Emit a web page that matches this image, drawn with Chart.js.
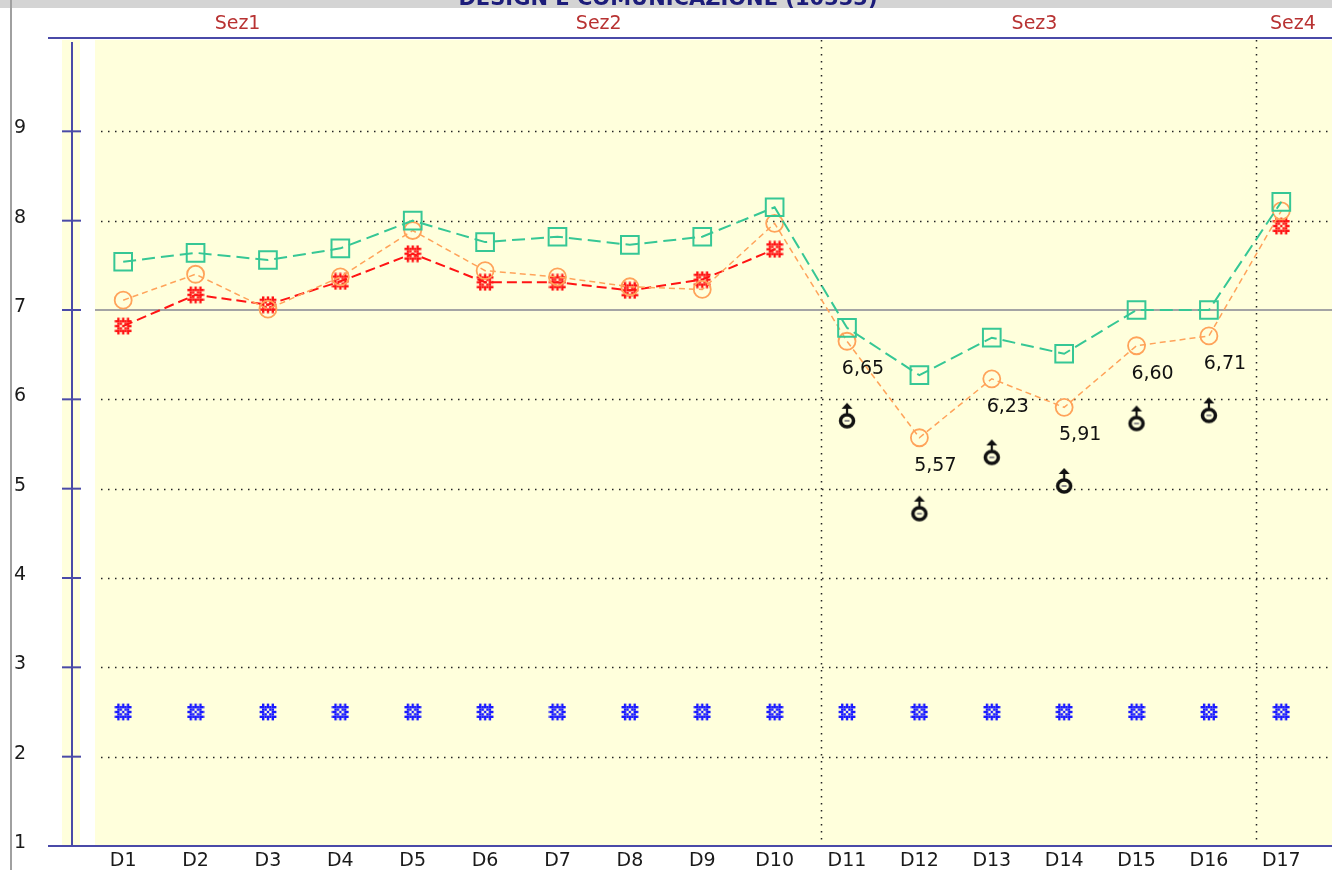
<!DOCTYPE html>
<html>
<head>
<meta charset="utf-8">
<script src="https://cdn.jsdelivr.net/npm/chart.js@4"></script>
<style>
  body { margin: 0; background: #fff; }
</style>
</head>
<body>
<canvas id="grafico" width="1332" height="870"></canvas>
<script>
var etichette = ['D1', 'D2', 'D3', 'D4', 'D5', 'D6', 'D7', 'D8', 'D9', 'D10', 'D11', 'D12', 'D13', 'D14', 'D15', 'D16', 'D17']
var tickY = [1, 2, 3, 4, 5, 6, 7, 8, 9]

// serie
var verde = [7.54, 7.64, 7.56, 7.69, 8.00, 7.76, 7.82, 7.73, 7.82, 8.15, 6.80, 6.27, 6.69, 6.51, 7.00, 7.00, 8.21]
var arancio = [7.11, 7.40, 7.01, 7.37, 7.89, 7.44, 7.37, 7.26, 7.23, 7.97, 6.65, 5.57, 6.23, 5.91, 6.60, 6.71, 8.11]
var rosso = [6.82, 7.17, 7.06, 7.32, 7.63, 7.31, 7.31, 7.22, 7.34, 7.68, null, null, null, null, null, null, 7.94]
var blu = [2.5, 2.5, 2.5, 2.5, 2.5, 2.5, 2.5, 2.5, 2.5, 2.5, 2.5, 2.5, 2.5, 2.5, 2.5, 2.5, 2.5]
var nero = [null, null, null, null, null, null, null, null, null, null, 5.76, 4.72, 5.35, 5.03, 5.73, 5.82, null]

// etichette con valore (solo D11-D16)
var conValore = [10, 11, 12, 13, 14, 15]

var sezioni = ['Sez1', 'Sez2', 'Sez3', 'Sez4']
var sezioniPos = [1.58, 6.57, 12.59, 16.16]
var confini = [9.64, 15.65]
var titolo = 'DESIGN E COMUNICAZIONE (10333)'

var FONT = '"DejaVu Sans", Verdana, sans-serif'

// asterisco a scacchiera come nell'originale
function asterisco(colore) {
    var schema = [
        '.X.X.X.',
        'XXXXXXX',
        '.XX.XX.',
        'XX.X.XX',
        '.XX.XX.',
        'XXXXXXX',
        '.X.X.X.'
    ]
    var cella = 2.4
    var c = document.createElement('canvas')
    c.width = 18; c.height = 18
    var g = c.getContext('2d')
    g.fillStyle = colore
    var off = (18 - cella * 7) / 2
    schema.forEach(function (riga, r) {
        for (var k = 0; k < riga.length; k++) {
            if (riga[k] === 'X') g.fillRect(off + k * cella, off + r * cella, cella, cella)
        }
    })
    return c
}

function simbolo() {
    var c = document.createElement('canvas')
    c.width = 24; c.height = 46
    var g = c.getContext('2d')
    g.strokeStyle = '#111'
    g.lineWidth = 3.5
    g.beginPath()
    g.ellipse(12, 23, 6.5, 6, 0, 0, Math.PI * 2)
    g.stroke()
    g.fillStyle = '#8a8a8a'
    g.fillRect(9.5, 22, 5, 2)
    g.lineWidth = 2.2
    g.beginPath()
    g.moveTo(12, 16); g.lineTo(12, 10)
    g.stroke()
    g.fillStyle = '#111'
    g.beginPath()
    g.moveTo(6.5, 11); g.lineTo(17.5, 11); g.lineTo(12, 5)
    g.closePath()
    g.fill()
    return c
}

var sfondo = {
    id: 'sfondo',
    beforeDraw: function (chart) {
        var ctx = chart.ctx
        var area = chart.chartArea
        var x = chart.scales.x
        var y = chart.scales.y
        var W = chart.width
        ctx.save()
        ctx.fillStyle = '#ffffff'
        ctx.fillRect(0, 0, W, chart.height)

        // barra grigia in alto con titolo tagliato
        ctx.fillStyle = '#d4d4d4'
        ctx.fillRect(0, 0, W, 8)
        ctx.save()
        ctx.beginPath(); ctx.rect(0, 0, W, 8); ctx.clip()
        ctx.fillStyle = '#1c1c7a'
        ctx.font = 'bold 21px ' + FONT
        ctx.textAlign = 'center'
        ctx.textBaseline = 'alphabetic'
        ctx.fillText(titolo, 668, 5)
        ctx.restore()

        // bordo sinistro
        ctx.fillStyle = '#a0a0a0'
        ctx.fillRect(10, 0, 2, chart.height)

        // sfondi gialli
        ctx.fillStyle = '#ffffdc'
        ctx.fillRect(95, 40, W - 95, area.bottom - 40)
        ctx.fillRect(62, 40, 18, area.bottom - 40)

        // griglia punteggiata
        ctx.strokeStyle = '#222'
        ctx.lineWidth = 1.5
        ctx.setLineDash([1.5, 5.5])
        tickY.forEach(function (v) {
            if (v === 1 || v === 7) return
            var py = Math.round(y.getPixelForValue(v)) + 0.5
            ctx.beginPath(); ctx.moveTo(101, py); ctx.lineTo(W, py); ctx.stroke()
        })
        confini.forEach(function (v) {
            var px = Math.round(x.getPixelForValue(v)) + 0.5
            ctx.beginPath(); ctx.moveTo(px, 40); ctx.lineTo(px, area.bottom); ctx.stroke()
        })
        ctx.setLineDash([])

        // linea del 7
        ctx.strokeStyle = '#a4a4a4'
        ctx.lineWidth = 2
        var p7 = y.getPixelForValue(7)
        ctx.beginPath(); ctx.moveTo(95, p7); ctx.lineTo(W, p7); ctx.stroke()

        // assi blu
        ctx.strokeStyle = '#4a4aa8'
        ctx.lineWidth = 2
        ctx.beginPath(); ctx.moveTo(48, 38); ctx.lineTo(W, 38); ctx.stroke()
        ctx.beginPath(); ctx.moveTo(48, area.bottom); ctx.lineTo(W, area.bottom); ctx.stroke()
        ctx.beginPath(); ctx.moveTo(72, y.getPixelForValue(10)); ctx.lineTo(72, area.bottom); ctx.stroke()
        tickY.forEach(function (v) {
            if (v === 1) return
            var py = y.getPixelForValue(v)
            ctx.beginPath(); ctx.moveTo(62, py); ctx.lineTo(81, py); ctx.stroke()
        })

        // etichette asse y
        ctx.font = '19px ' + FONT
        ctx.fillStyle = '#1a1a1a'
        ctx.textAlign = 'left'
        ctx.textBaseline = 'middle'
        tickY.forEach(function (v) {
            ctx.fillText(String(v), 14, y.getPixelForValue(v) - 3)
        })

        // etichette asse x
        ctx.textAlign = 'center'
        etichette.forEach(function (l, i) {
            ctx.fillText(l, x.getPixelForValue(i), 861)
        })

        // sezioni
        ctx.fillStyle = '#b83232'
        sezioni.forEach(function (s, i) {
            ctx.fillText(s, x.getPixelForValue(sezioniPos[i]), 24)
        })
        ctx.restore()
    },
    afterDatasetsDraw: function (chart) {
        var ctx = chart.ctx
        var x = chart.scales.x
        var y = chart.scales.y
        ctx.save()
        ctx.font = '19px ' + FONT
        ctx.fillStyle = '#111'
        ctx.textAlign = 'center'
        ctx.textBaseline = 'middle'
        conValore.forEach(function (i) {
            var t = arancio[i].toFixed(2).replace('.', ',')
            ctx.fillText(t, x.getPixelForValue(i) + 16, y.getPixelForValue(arancio[i]) + 28)
        })
        ctx.restore()
    }
}

var ctx = document.getElementById('grafico').getContext('2d')
var grafico = new Chart(ctx, {
    type: 'line',
    data: {
        labels: etichette,
        datasets: [{
            data: verde,
            borderColor: '#36c795',
            borderWidth: 2,
            borderDash: [13, 6],
            pointStyle: 'rect',
            pointRadius: 12.5,
            pointBorderWidth: 2,
            pointBorderColor: '#36c795',
            pointBackgroundColor: 'rgba(0,0,0,0)',
            tension: 0
        }, {
            data: arancio,
            borderColor: '#ffa35a',
            borderWidth: 1.5,
            borderDash: [6, 4],
            pointStyle: 'circle',
            pointRadius: 8.5,
            pointBorderWidth: 1.8,
            pointBorderColor: '#ffa35a',
            pointBackgroundColor: 'rgba(0,0,0,0)',
            tension: 0
        }, {
            data: rosso,
            borderColor: '#ff1414',
            borderWidth: 2,
            borderDash: [10, 5],
            pointStyle: asterisco('#ff1414'),
            spanGaps: false,
            tension: 0
        }, {
            data: blu,
            showLine: false,
            pointStyle: asterisco('#1a1aff')
        }, {
            data: nero,
            showLine: false,
            pointStyle: simbolo()
        }]
    },
    options: {
        responsive: false,
        animation: false,
        layout: { padding: { left: 87, right: 11, top: 42, bottom: 24 } },
        plugins: { legend: { display: false }, tooltip: { enabled: false } },
        scales: {
            x: { type: 'category', offset: true, display: false },
            y: { type: 'linear', min: 1, max: 10, display: false }
        }
    },
    plugins: [sfondo]
});
</script>
</body>
</html>
